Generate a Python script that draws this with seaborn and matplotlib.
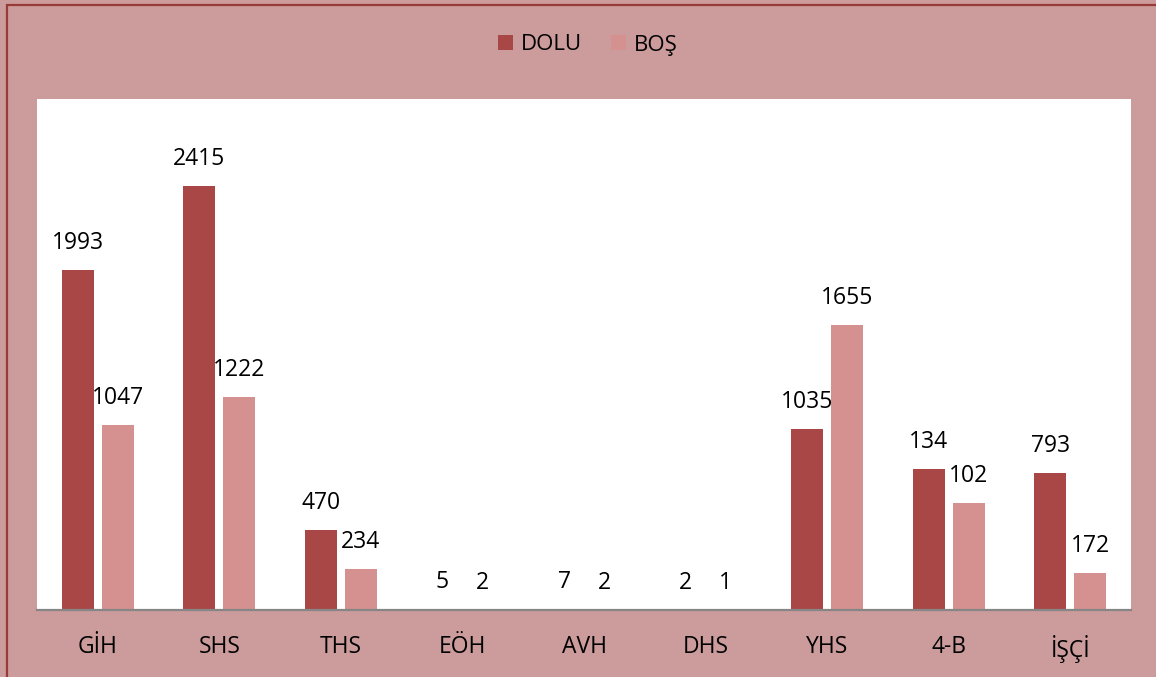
import matplotlib
matplotlib.use("Agg")
import matplotlib.pyplot as plt
import seaborn as sns
import pandas as pd
from matplotlib.patches import Rectangle

categories = ["GİH", "SHS", "THS", "EÖH", "AVH", "DHS", "YHS", "4-B", "İŞÇİ"]
series_names = ["DOLU", "BOŞ"]
# printed data labels
dolu_labels = [1993, 2415, 470, 5, 7, 2, 1035, 134, 793]
bos_labels = [1047, 1222, 234, 2, 2, 1, 1655, 102, 172]
# bar heights as drawn in the picture
dolu_heights = [1937, 2415, 456, 5, 7, 2, 1031, 803, 780]
bos_heights = [1054, 1213, 234, 2, 2, 1, 1623, 609, 211]

bg = "#CC9B9B"
c_dolu = "#A94746"
c_bos = "#D49190"

sns.set_theme(style="white")
plt.rcParams["font.family"] = ["Open Sans", "DejaVu Sans"]
plt.rcParams["text.color"] = "black"

df = pd.DataFrame({
    "cat": categories * 2,
    "series": [series_names[0]] * len(categories) + [series_names[1]] * len(categories),
    "value": dolu_heights + bos_heights,
    "label": dolu_labels + bos_labels,
})

fig = plt.figure(figsize=(11.56, 6.77), dpi=100, facecolor=bg)
ax = fig.add_axes([37 / 1156, 67 / 677, 1094 / 1156, 511 / 677])
ax.set_facecolor("white")

sns.barplot(data=df, x="cat", y="value", hue="series", order=categories,
            hue_order=series_names, palette=[c_dolu, c_bos], width=0.658,
            gap=0.2, saturation=1, linewidth=0, ax=ax, legend=True)

ax.set_xlim(-0.5, len(categories) - 0.5)
ax.set_ylim(0, 2911)
ax.set_xlabel("")
ax.set_ylabel("")
ax.set_yticks([])
ax.tick_params(axis="x", length=0, pad=18, labelsize=16.5, colors="black")
for s in ["top", "left", "right"]:
    ax.spines[s].set_visible(False)
ax.spines["bottom"].set_color("#868686")
ax.spines["bottom"].set_linewidth(1.6)

# data labels
for container, labels in zip(ax.containers, [dolu_labels, bos_labels]):
    for bar, lab in zip(container, labels):
        x = bar.get_x() + bar.get_width() / 2
        ax.annotate(str(lab), (x, bar.get_height()), xytext=(0, 19.5),
                    textcoords="offset points", ha="center", va="center",
                    fontsize=16.5, color="black")

leg = ax.legend(loc="center", bbox_to_anchor=(588 / 1156, 1 - 45 / 677),
                bbox_transform=fig.transFigure, ncol=2, frameon=False,
                fontsize=16, handlelength=0.68, handleheight=0.68,
                handletextpad=0.35, columnspacing=1.3, labelcolor="black")

# outer border
fig.patches.append(Rectangle((7 / 1156, -0.1), 1.2, 1.1 - 5 / 677,
                             transform=fig.transFigure, fill=False,
                             edgecolor="#983B38", linewidth=1.6, zorder=0))

fig.savefig("out.png", dpi=100, facecolor=bg)
